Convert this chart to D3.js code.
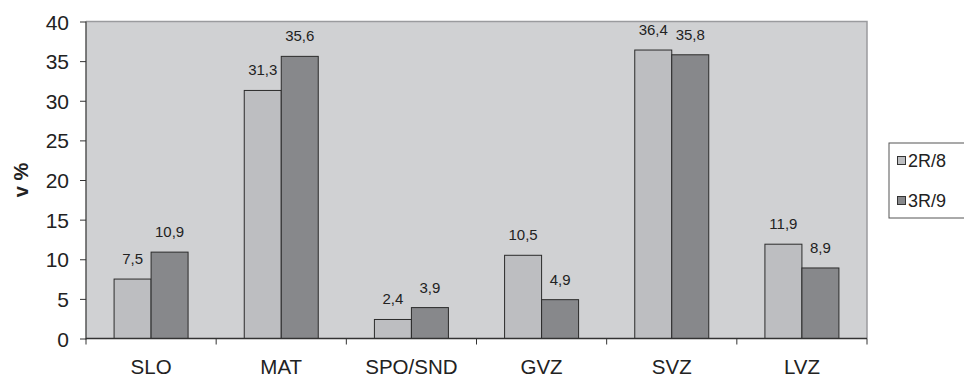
<!DOCTYPE html>
<html>
<head>
<meta charset="utf-8">
<script src="https://cdn.jsdelivr.net/npm/d3@7"></script>
<style>
  html, body { margin: 0; padding: 0; background: #fff; }
  svg { display: block; font-family: "Liberation Sans", Arial, sans-serif; }
</style>
</head>
<body>
<svg id="chart" width="964" height="378"></svg>
<script>
// Categories and series values (percent)
const categories = ["SLO", "MAT", "SPO/SND", "GVZ", "SVZ", "LVZ"];
const seriesNames = ["2R/8", "3R/9"];
const values2R8 = [7.5, 31.3, 2.4, 10.5, 36.4, 11.9];
const values3R9 = [10.9, 35.6, 3.9, 4.9, 35.8, 8.9];
const yTicks = [0, 5, 10, 15, 20, 25, 30, 35, 40];
const yTitle = "v %";

const fills = ["#bdbec1", "#87888b"];
const fmt = v => String(v).replace(".", ",");

const svg = d3.select("#chart");
const plotL = 86, plotR = 867, plotT = 21.5, plotB = 338.5;

const x = d3.scaleBand().domain(categories).range([plotL, plotR]).paddingInner(0).paddingOuter(0);
const y = d3.scaleLinear().domain([0, 40]).range([plotB, plotT]);
const barW = 37;

// plot background
svg.append("rect")
  .attr("x", plotL).attr("y", plotT)
  .attr("width", plotR - plotL).attr("height", plotB - plotT)
  .attr("fill", "#d0d1d3");
// plot frame top/right
svg.append("path")
  .attr("d", `M${plotL},${plotT}H${plotR}V${plotB}`)
  .attr("fill", "none").attr("stroke", "#9a9b9e").attr("stroke-width", 1.5);

// bars with value labels
const series = [values2R8, values3R9];
series.forEach((vals, si) => {
  const g = svg.append("g");
  g.selectAll("rect").data(categories).join("rect")
    .attr("x", c => x(c) + x.bandwidth() / 2 - barW + si * barW)
    .attr("y", (c, i) => y(vals[i]))
    .attr("width", barW)
    .attr("height", (c, i) => y(0) - y(vals[i]))
    .attr("fill", fills[si])
    .attr("stroke", "#2b2b2b").attr("stroke-width", 1);
  g.selectAll("text").data(categories).join("text")
    .attr("x", c => x(c) + x.bandwidth() / 2 - barW / 2 + si * barW)
    .attr("y", (c, i) => y(vals[i]) - 15)
    .attr("text-anchor", "middle")
    .attr("font-size", 15)
    .attr("fill", "#222")
    .text((c, i) => fmt(vals[i]));
});

// y axis
const yAxis = svg.append("g")
  .attr("transform", `translate(${plotL},0)`)
  .call(d3.axisLeft(y).tickValues(yTicks).tickSize(6).tickPadding(11).tickFormat(d => d));
yAxis.select(".domain").attr("stroke", "#555").attr("stroke-width", 1.5).attr("d", `M0,${plotB + 1}V${plotT}`);
yAxis.selectAll(".tick line").attr("stroke", "#333");
yAxis.selectAll(".tick text").attr("font-size", 21).attr("fill", "#222")
  .attr("font-family", "Liberation Sans, Arial, sans-serif").attr("dy", "0.36em");

// x axis with ticks at category boundaries
const xAxis = svg.append("g").attr("transform", `translate(0,${plotB})`);
xAxis.append("line").attr("x1", plotL).attr("x2", plotR).attr("stroke", "#333").attr("stroke-width", 1.5);
const bounds = categories.map(c => x(c)).concat([plotR]);
xAxis.selectAll(".bt").data(bounds).join("line")
  .attr("x1", d => d).attr("x2", d => d).attr("y1", 0).attr("y2", 6)
  .attr("stroke", "#333");
xAxis.selectAll(".cl").data(categories).join("text")
  .attr("x", c => x(c) + x.bandwidth() / 2)
  .attr("y", 35.5)
  .attr("text-anchor", "middle")
  .attr("font-size", 20.5)
  .attr("fill", "#222")
  .text(c => c);

// y axis title
svg.append("text")
  .attr("transform", `translate(27.5,180) rotate(-90)`)
  .attr("text-anchor", "middle")
  .attr("font-size", 20).attr("font-weight", "bold").attr("fill", "#222")
  .text(yTitle);

// legend
const lg = svg.append("g");
lg.append("rect").attr("x", 889).attr("y", 143).attr("width", 90).attr("height", 75)
  .attr("fill", "#fff").attr("stroke", "#555").attr("stroke-width", 1);
seriesNames.forEach((name, i) => {
  const yy = 161 + i * 40;
  lg.append("rect").attr("x", 897.5).attr("y", yy - 4.5).attr("width", 8).attr("height", 8)
    .attr("fill", fills[i]).attr("stroke", "#333").attr("stroke-width", 1);
  lg.append("text").attr("x", 908).attr("y", yy).attr("dy", "0.36em")
    .attr("font-size", 18).attr("fill", "#222").text(name);
});
</script>
</body>
</html>
